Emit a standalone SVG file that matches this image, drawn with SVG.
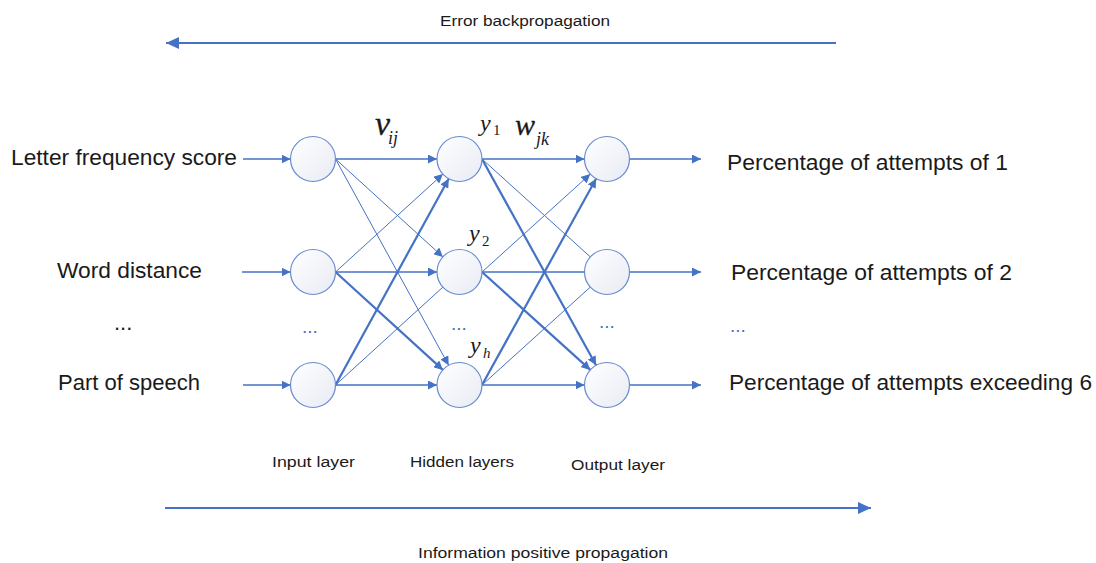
<svg xmlns="http://www.w3.org/2000/svg" width="1096" height="563" viewBox="0 0 1096 563">
<defs>
<linearGradient id="cg" x1="0" y1="0" x2="1" y2="1">
<stop offset="0" stop-color="#ffffff"/>
<stop offset="1" stop-color="#e8ebf4"/>
</linearGradient>
<marker id="ah" markerUnits="userSpaceOnUse" markerWidth="10" markerHeight="9" refX="9" refY="4.5" orient="auto">
<path d="M0,0 L9,4.5 L0,9 z" fill="#4472C4"/>
</marker>
<marker id="big" markerUnits="userSpaceOnUse" markerWidth="14" markerHeight="12" refX="13" refY="6" orient="auto">
<path d="M0,0 L13,6 L0,12 z" fill="#4472C4"/>
</marker>
</defs>
<style>
.n{fill:url(#cg);stroke:#6a8bd0;stroke-width:1.2}
.e{stroke:#4472C4;fill:none}
.t1{stroke-width:1}
.t2{stroke-width:1.6}
.t3{stroke-width:2.2}
.a{marker-end:url(#ah)}
.lbl{font-family:"Liberation Sans",Arial,sans-serif;font-size:22px;fill:#1a1a1a}
.sm{font-family:"Liberation Sans",Arial,sans-serif;font-size:14px;fill:#1a1a1a}
.dots{font-family:"Liberation Sans",Arial,sans-serif;font-size:19px;fill:#4472C4}
.m{font-family:"Liberation Serif","Times New Roman",serif;font-style:italic;fill:#1a1a1a}
.mu{font-family:"Liberation Serif","Times New Roman",serif;fill:#1a1a1a}
</style>

<g id="connectors">
<line class="e" x1="836" y1="43" x2="166" y2="43" stroke-width="2" marker-end="url(#big)"/>
<line class="e" x1="165" y1="508" x2="871" y2="508" stroke-width="2" marker-end="url(#big)"/>

<line class="e t2 a" x1="243" y1="159" x2="290.5" y2="159"/>
<line class="e t2 a" x1="242" y1="272" x2="290.5" y2="272"/>
<line class="e t2 a" x1="243" y1="385" x2="290.5" y2="385"/>

<line class="e t2 a" x1="335.5" y1="159" x2="437" y2="159"/>
<line class="e t1 a" x1="335.5" y1="159" x2="442.9" y2="256.9"/>
<line class="e t1 a" x1="335.5" y1="159" x2="448.7" y2="365.3"/>
<line class="e t1 a" x1="335.5" y1="272" x2="442.9" y2="174.1"/>
<line class="e t2 a" x1="335.5" y1="272" x2="437" y2="272"/>
<line class="e t3 a" x1="335.5" y1="272" x2="442.9" y2="369.9"/>
<line class="e t3 a" x1="335.5" y1="385" x2="448.7" y2="178.7"/>
<line class="e t1" x1="335.5" y1="385" x2="442.9" y2="287.1"/>
<line class="e t2 a" x1="335.5" y1="385" x2="437" y2="385"/>

<line class="e t2 a" x1="482" y1="159" x2="584.5" y2="159"/>
<line class="e t1" x1="482" y1="159" x2="590.3" y2="256.9"/>
<line class="e t3 a" x1="482" y1="159" x2="596.1" y2="365.3"/>
<line class="e t1 a" x1="482" y1="272" x2="590.3" y2="174.1"/>
<line class="e t2" x1="482" y1="272" x2="584.5" y2="272"/>
<line class="e t3 a" x1="482" y1="272" x2="590.3" y2="369.9"/>
<line class="e t3 a" x1="482" y1="385" x2="596.1" y2="178.7"/>
<line class="e t1" x1="482" y1="385" x2="590.3" y2="287.1"/>
<line class="e t2 a" x1="482" y1="385" x2="584.5" y2="385"/>

<line class="e t2 a" x1="629.5" y1="159" x2="701" y2="159"/>
<line class="e t2 a" x1="629.5" y1="272" x2="701" y2="272"/>
<line class="e t2 a" x1="629.5" y1="385" x2="701" y2="385"/>
</g>

<g id="input1"><circle class="n" cx="313" cy="159" r="22.5"/></g>
<g id="input2"><circle class="n" cx="313" cy="272" r="22.5"/></g>
<g id="input3"><circle class="n" cx="313" cy="385" r="22.5"/></g>
<g id="hidden1"><circle class="n" cx="459.5" cy="159" r="22.5"/></g>
<g id="hidden2"><circle class="n" cx="459.5" cy="272" r="22.5"/></g>
<g id="hidden3"><circle class="n" cx="459.5" cy="385" r="22.5"/></g>
<g id="output1"><circle class="n" cx="607" cy="159" r="22.5"/></g>
<g id="output2"><circle class="n" cx="607" cy="272" r="22.5"/></g>
<g id="output3"><circle class="n" cx="607" cy="385" r="22.5"/></g>

<g id="dots">
<text class="dots" x="302" y="333">...</text>
<text class="dots" x="451" y="330">...</text>
<text class="dots" x="599" y="328">...</text>
<text class="dots" x="730" y="332">...</text>
</g>

<g id="input-labels">
<text class="lbl" x="11" y="165" textLength="226" lengthAdjust="spacingAndGlyphs">Letter frequency score</text>
<text class="lbl" x="57" y="278" textLength="145" lengthAdjust="spacingAndGlyphs">Word distance</text>
<text class="lbl" x="114" y="330">...</text>
<text class="lbl" x="58" y="390" textLength="142" lengthAdjust="spacingAndGlyphs">Part of speech</text>
</g>

<g id="output-labels">
<text class="lbl" x="727" y="170" textLength="281" lengthAdjust="spacingAndGlyphs">Percentage of attempts of 1</text>
<text class="lbl" x="731" y="280" textLength="281" lengthAdjust="spacingAndGlyphs">Percentage of attempts of 2</text>
<text class="lbl" x="729" y="390" textLength="363" lengthAdjust="spacingAndGlyphs">Percentage of attempts exceeding 6</text>
</g>

<g id="layer-labels">
<text class="sm" x="272" y="467" textLength="83" lengthAdjust="spacingAndGlyphs">Input layer</text>
<text class="sm" x="410" y="467" textLength="104" lengthAdjust="spacingAndGlyphs">Hidden layers</text>
<text class="sm" x="571" y="470" textLength="94" lengthAdjust="spacingAndGlyphs">Output layer</text>
<text class="sm" x="440" y="26" textLength="170" lengthAdjust="spacingAndGlyphs">Error backpropagation</text>
<text class="sm" x="418" y="558" textLength="250" lengthAdjust="spacingAndGlyphs">Information positive propagation</text>
</g>

<g id="math-labels">
<text class="m" x="375" y="135" font-size="34" stroke="#1a1a1a" stroke-width="0.3">v</text>
<text class="m" x="388" y="144" font-size="18">ij</text>
<text class="m" x="480" y="131" font-size="24">y</text>
<text class="mu" x="493" y="135" font-size="15">1</text>
<text class="m" x="515" y="135" font-size="30" stroke="#1a1a1a" stroke-width="0.3">w</text>
<text class="m" x="536" y="145" font-size="18">jk</text>
<text class="m" x="469" y="241" font-size="24">y</text>
<text class="mu" x="482" y="246" font-size="15">2</text>
<text class="m" x="470" y="353" font-size="24">y</text>
<text class="m" x="483" y="358" font-size="15">h</text>
</g>
</svg>
